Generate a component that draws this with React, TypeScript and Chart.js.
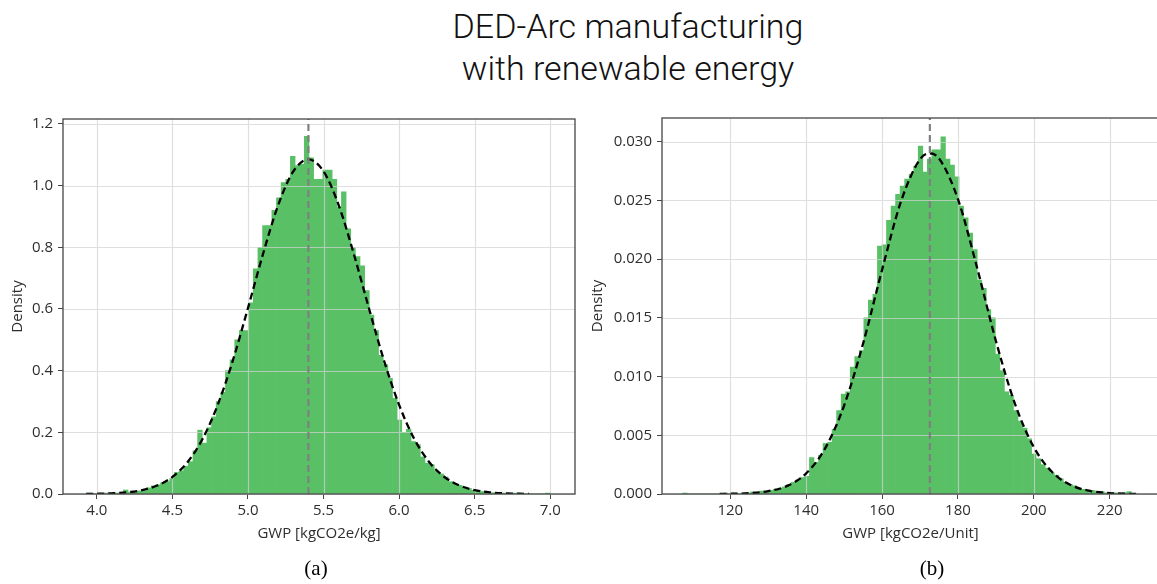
import React, { useEffect, useRef } from "react";
import { Chart, registerables } from "chart.js";

Chart.register(...registerables);

// ---------- Panel (a): GWP per kg ----------
const leftBinStart = 3.93;
const leftBinWidth = 0.0307;
const leftDensity = [
  0.003, 0, 0, 0, 0.003, 0.003, 0.003, 0.003, 0.013, 0.006,
  0.007, 0.01, 0.01, 0.02, 0.026, 0.03, 0.036, 0.04, 0.05, 0.07,
  0.075, 0.09, 0.105, 0.14, 0.207, 0.165, 0.215, 0.25, 0.3, 0.33,
  0.4, 0.435, 0.5, 0.53, 0.53, 0.62, 0.73, 0.8, 0.87, 0.87,
  0.92, 0.96, 1.01, 1.02, 1.095, 1.065, 1.07, 1.16, 1.09, 1.02,
  1.02, 1.05, 1.05, 1.02, 0.93, 0.98, 0.86, 0.8, 0.77, 0.74,
  0.66, 0.58, 0.53, 0.45, 0.42, 0.375, 0.31, 0.24, 0.2, 0.21,
  0.17, 0.16, 0.12, 0.1, 0.095, 0.075, 0.065, 0.055, 0.04, 0.032,
  0.028, 0.022, 0.018, 0.012, 0.012, 0.008, 0.006, 0.004, 0.004, 0.003,
  0.003, 0, 0.003, 0, 0, 0, 0, 0, 0, 0.003,
];
const leftFitX = [
  3.93, 4.0, 4.1, 4.2, 4.3, 4.4, 4.5, 4.6, 4.7, 4.8, 4.9, 5.0, 5.1, 5.2, 5.3, 5.4,
  5.5, 5.6, 5.7, 5.8, 5.9, 6.0, 6.1, 6.2, 6.3, 6.4, 6.5, 6.6, 6.7, 6.8, 6.86,
];
const leftFitY = [
  0.0004, 0.0008, 0.0022, 0.0054, 0.0127, 0.0275, 0.0552, 0.1032, 0.179, 0.289, 0.433,
  0.603, 0.779, 0.937, 1.046, 1.085, 1.046, 0.937, 0.779, 0.603, 0.433, 0.289, 0.179,
  0.1032, 0.0552, 0.0275, 0.0127, 0.0054, 0.0022, 0.0008, 0.0004,
];
const leftMean = 5.4;
const leftXTicks = [4.0, 4.5, 5.0, 5.5, 6.0, 6.5, 7.0];
const leftYTicks = [0, 0.2, 0.4, 0.6, 0.8, 1.0, 1.2];

// ---------- Panel (b): GWP per unit ----------
const rightBinStart = 107.4;
const rightBinWidth = 1.195;
const rightDensity = [
  0.00008, 0, 0, 0, 0, 0, 0, 0, 0, 0.00008,
  0, 0.00008, 0, 0.00008, 0.00008, 0.00017, 0.00008, 0.00025, 0.00025, 0.0003,
  0.0004, 0.0005, 0.0006, 0.0008, 0.001, 0.0012, 0.0014, 0.0015, 0.0031, 0.0027,
  0.0033, 0.0043, 0.0044, 0.0055, 0.0071, 0.0085, 0.0087, 0.0108, 0.0117, 0.0122,
  0.015, 0.0165, 0.017, 0.0211, 0.0212, 0.0233, 0.0245, 0.0255, 0.0262, 0.0268,
  0.0272, 0.0279, 0.0296, 0.0274, 0.0285, 0.0293, 0.0293, 0.0304, 0.0285, 0.028,
  0.027, 0.0245, 0.0235, 0.0222, 0.0208, 0.0182, 0.0175, 0.0157, 0.015, 0.0119,
  0.0105, 0.0087, 0.0084, 0.0071, 0.0062, 0.0056, 0.0047, 0.0034, 0.003, 0.0025,
  0.0022, 0.0018, 0.0016, 0.0013, 0.001, 0.0008, 0.0007, 0.0005, 0.0004, 0.0003,
  0.0003, 0.0002, 0.0002, 0.0001, 0.0001, 0.0001, 0, 0.0001, 0.0002, 0,
];
const rightFitX = [
  117.2, 120, 125, 130, 135, 140, 145, 150, 155, 160, 165, 170, 172.6, 175, 180, 185,
  190, 195, 200, 205, 210, 215, 220, 225, 227.2,
];
const rightFitY = [
  0.00001, 0.00002, 0.00007, 0.00024, 0.00069, 0.00175, 0.00388, 0.00753, 0.0128,
  0.01907, 0.0249, 0.02849, 0.029, 0.02856, 0.0251, 0.01932, 0.01304, 0.00771,
  0.00399, 0.00181, 0.00072, 0.00025, 0.00008, 0.00002, 0.00001,
];
const rightMean = 172.6;
const rightXTicks = [120, 140, 160, 180, 200, 220];
const rightYTicks = [0, 0.005, 0.01, 0.015, 0.02, 0.025, 0.03];

const BAR_GREEN = "#59c066";
const FONT = "'Open Sans', 'Noto Sans', sans-serif";
const TEXT = "#2e2e2e";
const SPINE = "#454545";

// Grid lines are painted right after the histogram so they sit over the bars,
// then the four spines are drawn last.
const gridFramePlugin = {
  id: "gridFrame",
  afterDatasetDraw(chart: any, args: any) {
    if (args.index !== 0) return;
    const { ctx, chartArea: a, scales } = chart;
    ctx.save();
    ctx.strokeStyle = "rgba(210,210,210,0.72)";
    ctx.lineWidth = 1.2;
    ctx.beginPath();
    for (const t of scales.x.ticks) {
      const px = Math.round(scales.x.getPixelForValue(t.value)) + 0.5;
      ctx.moveTo(px, a.top);
      ctx.lineTo(px, a.bottom);
    }
    for (const t of scales.y.ticks) {
      const py = Math.round(scales.y.getPixelForValue(t.value)) + 0.5;
      ctx.moveTo(a.left, py);
      ctx.lineTo(a.right, py);
    }
    ctx.stroke();
    ctx.restore();
  },
  afterDraw(chart: any) {
    const { ctx, chartArea: a } = chart;
    ctx.save();
    ctx.strokeStyle = SPINE;
    ctx.lineWidth = 1.3;
    ctx.strokeRect(a.left, a.top, a.right - a.left, a.bottom - a.top);
    ctx.restore();
  },
};

type PanelProps = {
  pageLeft: number;
  width: number;
  yAxisWidth: number;
  padTop: number;
  padRight: number;
  binStart: number;
  binWidth: number;
  density: number[];
  fitX: number[];
  fitY: number[];
  mean: number;
  xMin: number;
  xMax: number;
  yMax: number;
  xTicks: number[];
  yTicks: number[];
  xDigits: number;
  yDigits: number;
  xTitle: string;
};

const CANVAS_TOP = 100;
const CANVAS_H = 460;

function HistogramPanel(p: PanelProps) {
  const ref = useRef<HTMLCanvasElement | null>(null);

  useEffect(() => {
    if (!ref.current) return;
    const bars = p.density.map((d, i) => ({ x: p.binStart + (i + 0.5) * p.binWidth, y: d }));
    const fit = p.fitX.map((x, i) => ({ x, y: p.fitY[i] }));
    const meanLine = [
      { x: p.mean, y: 0 },
      { x: p.mean, y: p.yMax },
    ];
    const tickFont = { family: FONT, size: 15 };

    const chart = new Chart(ref.current, {
      type: "bar",
      data: {
        datasets: [
          {
            type: "bar",
            data: bars,
            backgroundColor: BAR_GREEN,
            borderWidth: 0,
            barPercentage: 1,
            categoryPercentage: 1,
            order: 3,
          } as any,
          {
            type: "line",
            data: fit,
            borderColor: "#000000",
            borderWidth: 2.3,
            borderDash: [7, 4],
            pointRadius: 0,
            cubicInterpolationMode: "monotone",
            fill: false,
            order: 2,
          } as any,
          {
            type: "line",
            data: meanLine,
            borderColor: "#808080",
            borderWidth: 2.2,
            borderDash: [7, 4],
            pointRadius: 0,
            fill: false,
            order: 1,
          } as any,
        ],
      },
      options: {
        animation: false,
        responsive: false,
        events: [],
        layout: { padding: { top: p.padTop, right: p.padRight, left: 0, bottom: 0 } },
        plugins: { legend: { display: false }, tooltip: { enabled: false } },
        scales: {
          x: {
            type: "linear",
            min: p.xMin,
            max: p.xMax,
            offset: false,
            afterBuildTicks: (s: any) => {
              s.ticks = p.xTicks.map((v) => ({ value: v }));
            },
            afterFit: (s: any) => {
              s.height = 66;
            },
            grid: {
              display: true,
              offset: false,
              drawOnChartArea: false,
              drawTicks: true,
              tickLength: 5,
              tickColor: SPINE,
              tickWidth: 1,
            },
            border: { display: false },
            ticks: {
              color: TEXT,
              font: tickFont,
              padding: 3,
              maxRotation: 0,
              autoSkip: false,
              callback: (v: any) => Number(v).toFixed(p.xDigits),
            },
            title: {
              display: true,
              text: p.xTitle,
              color: TEXT,
              font: tickFont,
              padding: { top: 0, bottom: 17 },
            },
          },
          y: {
            type: "linear",
            min: 0,
            max: p.yMax,
            afterBuildTicks: (s: any) => {
              s.ticks = p.yTicks.map((v) => ({ value: v }));
            },
            afterFit: (s: any) => {
              s.width = p.yAxisWidth;
            },
            grid: {
              display: true,
              drawOnChartArea: false,
              drawTicks: true,
              tickLength: 5,
              tickColor: SPINE,
              tickWidth: 1,
            },
            border: { display: false },
            ticks: {
              color: TEXT,
              font: tickFont,
              padding: 5,
              autoSkip: false,
              callback: (v: any) => Number(v).toFixed(p.yDigits),
            },
            title: {
              display: true,
              text: "Density",
              color: TEXT,
              font: tickFont,
              padding: { top: 9, bottom: 0 },
            },
          },
        },
      } as any,
      plugins: [gridFramePlugin],
    });
    return () => chart.destroy();
  }, []);

  return (
    <canvas
      ref={ref}
      width={p.width}
      height={CANVAS_H}
      style={{ position: "absolute", left: p.pageLeft, top: CANVAS_TOP, width: p.width, height: CANVAS_H }}
    />
  );
}

export default function App() {
  return (
    <div
      style={{
        position: "absolute",
        left: 0,
        top: 0,
        width: 1157,
        height: 584,
        overflow: "hidden",
        background: "#ffffff",
      }}
    >
      <div
        style={{
          position: "absolute",
          left: 328,
          top: 5,
          width: 600,
          textAlign: "center",
          fontFamily: "Roboto, 'Liberation Sans', sans-serif",
          fontWeight: 300,
          fontSize: 34,
          lineHeight: "42px",
          color: "#111111",
        }}
      >
        <div>DED-Arc manufacturing</div>
        <div>with renewable energy</div>
      </div>

      <HistogramPanel
        pageLeft={0}
        width={590}
        yAxisWidth={63}
        padTop={19}
        padRight={15}
        binStart={leftBinStart}
        binWidth={leftBinWidth}
        density={leftDensity}
        fitX={leftFitX}
        fitY={leftFitY}
        mean={leftMean}
        xMin={3.776}
        xMax={7.164}
        yMax={1.216}
        xTicks={leftXTicks}
        yTicks={leftYTicks}
        xDigits={1}
        yDigits={1}
        xTitle="GWP [kgCO2e/kg]"
      />
      <HistogramPanel
        pageLeft={580}
        width={590}
        yAxisWidth={82}
        padTop={18}
        padRight={11}
        binStart={rightBinStart}
        binWidth={rightBinWidth}
        density={rightDensity}
        fitX={rightFitX}
        fitY={rightFitY}
        mean={rightMean}
        xMin={102.0}
        xMax={233.0}
        yMax={0.032}
        xTicks={rightXTicks}
        yTicks={rightYTicks}
        xDigits={0}
        yDigits={3}
        xTitle="GWP [kgCO2e/Unit]"
      />

      <div
        style={{
          position: "absolute",
          left: 266,
          width: 100,
          top: 555,
          textAlign: "center",
          fontFamily: "'Liberation Serif', 'Times New Roman', serif",
          fontSize: 21,
          lineHeight: "26px",
          color: "#000000",
        }}
      >
        (a)
      </div>
      <div
        style={{
          position: "absolute",
          left: 882,
          width: 100,
          top: 555,
          textAlign: "center",
          fontFamily: "'Liberation Serif', 'Times New Roman', serif",
          fontSize: 21,
          lineHeight: "26px",
          color: "#000000",
        }}
      >
        (b)
      </div>
    </div>
  );
}
